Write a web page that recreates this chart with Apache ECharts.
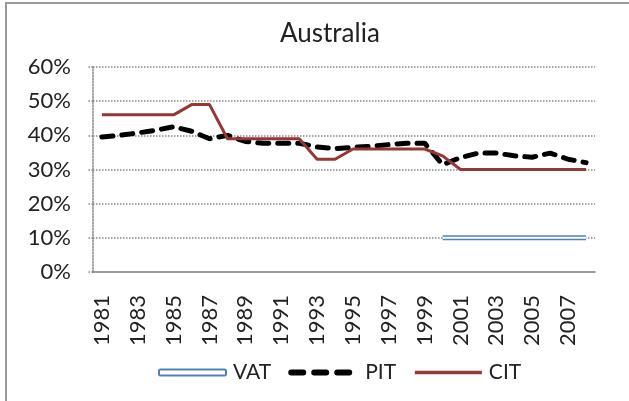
<!DOCTYPE html>
<html>
<head>
<meta charset="utf-8">
<script src="https://cdn.jsdelivr.net/npm/echarts@6/dist/echarts.min.js"></script>
<style>
  html, body { margin: 0; padding: 0; background: #fff; }
  #chart { width: 629px; height: 401px; }
</style>
</head>
<body>
<div id="chart"></div>
<script>
const years = ['1981','1982','1983','1984','1985','1986','1987','1988','1989','1990',
  '1991','1992','1993','1994','1995','1996','1997','1998','1999','2000',
  '2001','2002','2003','2004','2005','2006','2007','2008'];

// VAT starts in 2000
const vat = [null,null,null,null,null,null,null,null,null,null,
  null,null,null,null,null,null,null,null,null,10,
  10,10,10,10,10,10,10,10];

const pit = [39.5,40,40.7,41.5,42.5,41.2,39,40,38.2,37.7,
  37.7,37.7,36.6,36.1,36.5,36.8,37.3,37.7,37.7,31.4,
  33.5,34.8,34.8,34,33.6,34.8,33,32];

const cit = [46,46,46,46,46,49,49,39,39,39,
  39,39,33,33,36,36,36,36,36,34,
  30,30,30,30,30,30,30,30];

const yTicks = [0, 10, 20, 30, 40, 50, 60];

const font = 'Lato, "Open Sans", sans-serif';
const chart = echarts.init(document.getElementById('chart'));

const option = {
  animation: false,
  title: {
    text: 'Australia',
    left: 275,
    top: 16,
    textStyle: { fontFamily: font, fontSize: 26, fontWeight: 'normal', color: '#222' }
  },
  graphic: [{
    type: 'rect',
    shape: { x: 6, y: 3, width: 700, height: 500 },
    style: { fill: null, stroke: '#999', lineWidth: 2 }
  }],
  legend: {
    top: 357,
    left: 153,
    itemWidth: 67,
    itemHeight: 6,
    itemGap: 17,
    textStyle: { fontFamily: font, fontSize: 21, color: '#222', padding: [0, 0, 0, 2] },
    data: [
      { name: 'VAT', icon: 'roundRect', itemStyle: { color: '#fff', borderColor: '#4F81BD', borderWidth: 2 } },
      { name: 'PIT', itemStyle: { opacity: 0 }, lineStyle: { width: 6, type: [12, 11], cap: 'round' } },
      { name: 'CIT', itemStyle: { opacity: 0 }, lineStyle: { width: 3.5 } }
    ]
  },
  grid: { left: 93, right: 34, top: 67, bottom: 129 },
  xAxis: {
    type: 'category',
    data: years,
    boundaryGap: true,
    axisLine: { lineStyle: { color: '#888', width: 1.5 } },
    axisTick: { interval: 0, length: 6, lineStyle: { color: '#888' } },
    axisLabel: {
      interval: 1,
      rotate: 90,
      margin: 23,
      fontFamily: font,
      fontSize: 22,
      color: '#222'
    }
  },
  yAxis: {
    type: 'value',
    min: yTicks[0],
    max: yTicks[yTicks.length - 1],
    interval: 10,
    axisLine: { show: true, lineStyle: { color: '#888', type: 'dotted', width: 1.5 } },
    axisTick: { show: true, length: 6, lineStyle: { color: '#888', type: 'dotted', width: 1.5 } },
    splitLine: { lineStyle: { color: '#888', type: 'dotted', width: 1.5 } },
    axisLabel: {
      formatter: '{value}%',
      margin: 22,
      fontFamily: font,
      fontSize: 22,
      color: '#222'
    }
  },
  series: [
    {
      name: 'VAT',
      type: 'line',
      data: vat,
      symbol: 'none',
      lineStyle: { color: '#4F81BD', width: 5 },
      itemStyle: { color: '#4F81BD' },
      z: 2
    },
    {
      name: 'VAT inner',
      type: 'line',
      data: vat,
      symbol: 'none',
      lineStyle: { color: '#fff', width: 2 },
      z: 3
    },
    {
      name: 'PIT',
      type: 'line',
      data: pit,
      symbol: 'none',
      lineStyle: { color: '#000', width: 5, type: [11, 9], cap: 'round' },
      itemStyle: { color: '#000' },
      z: 4
    },
    {
      name: 'CIT',
      type: 'line',
      data: cit,
      symbol: 'none',
      lineStyle: { color: '#953735', width: 3 },
      itemStyle: { color: '#953735' },
      z: 5
    }
  ]
};

chart.setOption(option);
</script>
</body>
</html>
